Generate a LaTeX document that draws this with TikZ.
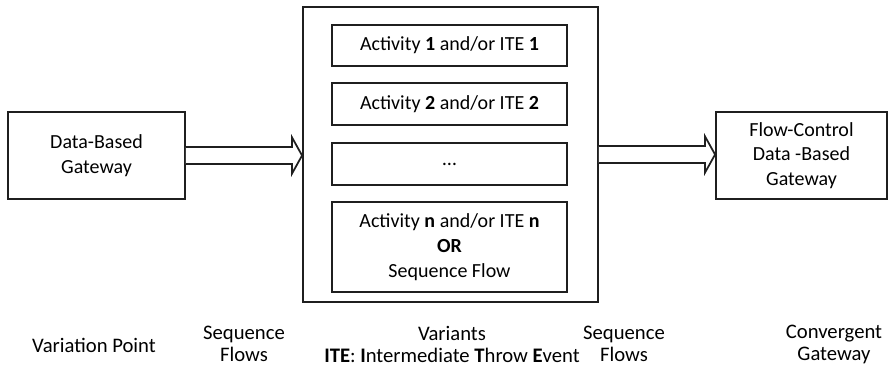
\documentclass[tikz,border=0pt]{standalone}
\usepackage{fontspec}
\setmainfont{Carlito}
\usepackage{tikz}
\usetikzlibrary{calc}

\tikzset{
  boxline/.style={draw=black!88, line width=1.4pt},
  gwbox/.style={boxline, align=center, inner sep=0pt, minimum height=65.25pt},
  itembox/.style={boxline, align=center, inner sep=0pt, minimum width=176.25pt},
  caption/.style={align=center, font=\fontsize{15.5}{16.5}\selectfont},
  flowline/.style={draw=black!88, line width=1.3pt, fill=white, line join=miter}
}

% block arrow from the east side of #1 to the west side of #2
\newcommand{\flowarrow}[2]{%
  \draw[flowline] ($(#1.east)+(0,-8.5)$) -- ($(#2.west |- #1.east)+(-10,-8.5)$)
    -- ($(#2.west |- #1.east)+(-10,-18)$) -- (#2.west |- #1.east)
    -- ($(#2.west |- #1.east)+(-10,18)$) -- ($(#2.west |- #1.east)+(-10,8.5)$)
    -- ($(#1.east)+(0,8.5)$);
}

\begin{document}
\begin{tikzpicture}[x=0.75pt, y=-0.75pt,
  every node/.style={font=\fontsize{15}{18.5}\selectfont}]
\useasboundingbox (0,0) rectangle (890,369);

% gateways
\node[gwbox, minimum width=132.75pt] (dbgw) at (96.5,155.5) {Data-Based\\Gateway};
\node[gwbox, minimum width=128.25pt] (fcgw) at (801.5,155.5) {Flow-Control\\Data -Based\\Gateway};

% variants
\node[boxline, minimum width=221.25pt, minimum height=221.25pt] (vars) at (450.5,154.5) {};
\node[itembox, minimum height=30.75pt] (act1) at (449.5,45.5) {Activity \textbf{1} and/or ITE \textbf{1}};
\node[itembox, minimum height=31.5pt] (act2) at (449.5,104) {Activity \textbf{2} and/or ITE \textbf{2}};
\node[itembox, minimum height=31.5pt] (dots) at (449.5,164) {\dots};
\node[itembox, minimum height=67.5pt] (actn) at (449.5,247) {Activity \textbf{n} and/or ITE \textbf{n}\\\textbf{OR}\\Sequence Flow};

% sequence flows
\flowarrow{dbgw}{vars}
\flowarrow{vars}{fcgw}

% captions
\node[caption] (capvp) at (94,345) {Variation Point};
\node[caption] (capsf1) at (244,344) {Sequence\\Flows};
\node[caption] (capvar) at (452,344) {Variants\\\textbf{ITE}: \textbf{I}ntermediate \textbf{T}hrow \textbf{E}vent};
\node[caption] (capsf2) at (624,344) {Sequence\\Flows};
\node[caption] (capcg) at (834,344) {Convergent\\Gateway};
\end{tikzpicture}
\end{document}
